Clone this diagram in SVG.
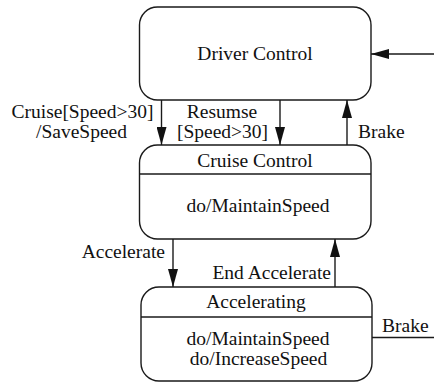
<svg xmlns="http://www.w3.org/2000/svg" width="434" height="383" viewBox="0 0 434 383">
  <style>
    .state { fill: #ffffff; stroke: #1a1a1a; stroke-width: 1.4; }
    .divider { stroke: #1a1a1a; stroke-width: 1.4; }
    .edge { stroke: #1a1a1a; stroke-width: 1.4; fill: none; }
    text { font-family: "Liberation Serif", "Times New Roman", serif; font-size: 19.5px; fill: #111111; }
    .c { text-anchor: middle; }
    .e { text-anchor: end; }
  </style>
  <defs>
    <marker id="arrow" viewBox="0 0 18 10" refX="18" refY="5" markerWidth="18" markerHeight="10" markerUnits="userSpaceOnUse" orient="auto">
      <path d="M0,0 L18,5 L0,10 Z" fill="#111111"/>
    </marker>
  </defs>

  <rect width="434" height="383" fill="#ffffff"/>

  <!-- states -->
  <g id="driver-control">
    <rect class="state" x="139.5" y="7" width="231.5" height="93" rx="18" ry="18"/>
    <text class="c" x="255" y="60">Driver Control</text>
  </g>

  <g id="cruise-control">
    <rect class="state" x="139.5" y="145" width="231.5" height="94" rx="18" ry="18"/>
    <line class="divider" x1="139.5" y1="174" x2="371" y2="174"/>
    <text class="c" x="255" y="167">Cruise Control</text>
    <text class="c" x="258" y="212">do/MaintainSpeed</text>
  </g>

  <g id="accelerating">
    <rect class="state" x="141" y="287" width="231" height="94" rx="18" ry="18"/>
    <line class="divider" x1="141" y1="317" x2="372" y2="317"/>
    <text class="c" x="256" y="308">Accelerating</text>
    <text class="c" x="258" y="345">do/MaintainSpeed</text>
    <text class="c" x="258.5" y="365">do/IncreaseSpeed</text>
  </g>

  <!-- transitions -->
  <g id="connectors">
    <line class="edge" x1="434" y1="54" x2="371" y2="54" marker-end="url(#arrow)"/>
    <line class="edge" x1="161.5" y1="100" x2="161.5" y2="145" marker-end="url(#arrow)"/>
    <line class="edge" x1="280" y1="100" x2="280" y2="145" marker-end="url(#arrow)"/>
    <line class="edge" x1="347" y1="145" x2="347" y2="100" marker-end="url(#arrow)"/>
    <line class="edge" x1="173" y1="239" x2="173" y2="287" marker-end="url(#arrow)"/>
    <line class="edge" x1="335" y1="287" x2="335" y2="239" marker-end="url(#arrow)"/>
    <line class="edge" x1="372" y1="337.5" x2="434" y2="337.5"/>

    <text class="c" x="82.5" y="118">Cruise[Speed&gt;30]</text>
    <text class="c" x="81.5" y="138">/SaveSpeed</text>
    <text class="c" x="222" y="118">Resumse</text>
    <text class="c" x="222.5" y="138">[Speed&gt;30]</text>
    <text x="358" y="138">Brake</text>
    <text class="e" x="165" y="258">Accelerate</text>
    <text class="e" x="331" y="279">End Accelerate</text>
    <text x="382" y="332">Brake</text>
  </g>
</svg>
